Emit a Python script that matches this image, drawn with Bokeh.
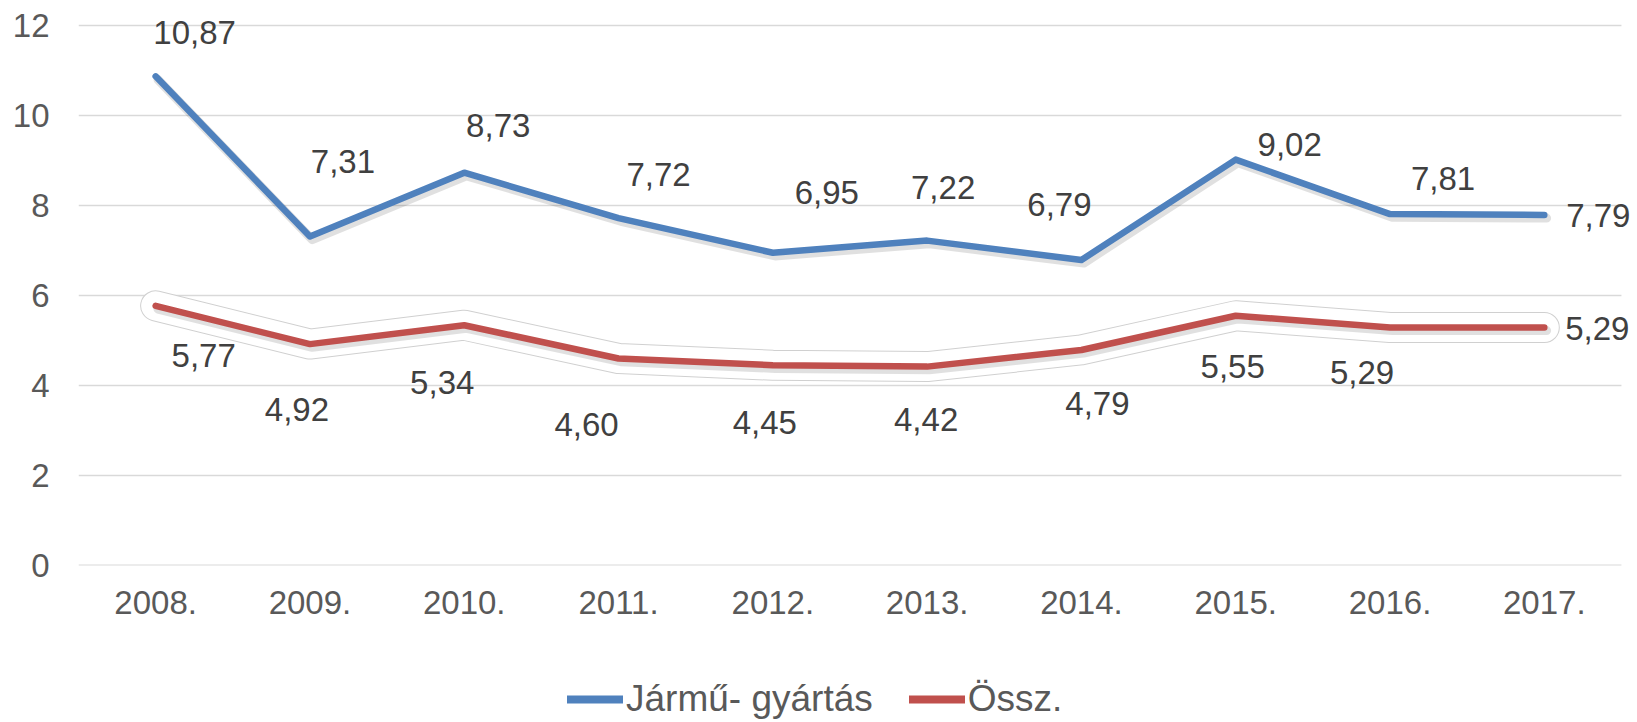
from bokeh.plotting import figure
from bokeh.layouts import column
from bokeh.models import (Range1d, Legend, LegendItem, ColumnDataSource, FixedTicker)
from bokeh.transform import dodge
from bokeh.core.properties import value
from bokeh.embed import file_html
from bokeh.resources import INLINE

years = ["2008.", "2009.", "2010.", "2011.", "2012.", "2013.", "2014.", "2015.", "2016.", "2017."]
jarmu = [10.87, 7.31, 8.73, 7.72, 6.95, 7.22, 6.79, 9.02, 7.81, 7.79]
ossz = [5.77, 4.92, 5.34, 4.60, 4.45, 4.42, 4.79, 5.55, 5.29, 5.29]
y_ticks = [0, 2, 4, 6, 8, 10, 12]
series_names = ["Jármű- gyártás", "Össz."]

# label placement (screen pixels, relative to each point)
jarmu_dx = [39, 33, 34, 40, 54, 16, -22, 54, 53, 54]
jarmu_dy = [-44, -75, -47, -44, -60, -53, -55, -15, -36, 1]
ossz_dx = [48, -13, -22, -32, -8, -1, 16, -3, -28, 53]
ossz_dy = [50, 65, 57, 66, 57, 53, 54, 51, 45, 1]

FONT = "Liberation Sans"
BLUE = "#4F81BD"
RED = "#C0504D"

idx = list(range(len(years)))


def fmt(v):
    return f"{v:.2f}".replace(".", ",")


src_b = ColumnDataSource(dict(x=idx, y=jarmu, lab=[fmt(v) for v in jarmu], dx=jarmu_dx, dy=jarmu_dy))
src_r = ColumnDataSource(dict(x=idx, y=ossz, lab=[fmt(v) for v in ossz], dx=ossz_dx, dy=ossz_dy))

# category slots span [-0.5, n-0.5]; extra room to the right/top for labels
x_lo, x_hi = -0.5, len(years) - 0.5
p = figure(x_range=Range1d(x_lo, x_hi + 0.104), y_range=Range1d(0, 12.556),
           width=1637, height=640, output_backend="svg", toolbar_location=None,
           min_border_left=78, min_border_right=0, min_border_top=0, min_border_bottom=75)
p.outline_line_color = None
p.background_fill_color = "white"
p.border_fill_color = "white"
p.xgrid.grid_line_color = None
p.ygrid.grid_line_color = None

p.yaxis.ticker = FixedTicker(ticks=y_ticks)
p.xaxis.ticker = FixedTicker(ticks=idx)
p.xaxis.major_label_overrides = {i: y for i, y in zip(idx, years)}
for ax in (p.xaxis[0], p.yaxis[0]):
    ax.axis_line_color = None
    ax.major_tick_line_color = None
    ax.minor_tick_line_color = None
    ax.major_tick_out = 0
    ax.major_tick_in = 0
    ax.major_label_text_font = FONT
    ax.major_label_text_color = "#595959"
    ax.major_label_text_font_size = "33px"
p.yaxis.major_label_standoff = 29
p.xaxis.major_label_standoff = 25

# horizontal gridlines across the category area
grid = ColumnDataSource(dict(y=y_ticks, x0=[x_lo] * len(y_ticks), x1=[x_hi] * len(y_ticks),
                             w=[2.2 if t == 0 else 1.5 for t in y_ticks]))
p.segment(x0="x0", x1="x1", y0="y", y1="y", source=grid, line_color="#d9d9d9", line_width="w")

# glow around the red series
p.line(x="x", y="y", source=src_r, line_color="#d0d0d0", line_width=31, line_cap="round", line_join="round")
p.line(x="x", y="y", source=src_r, line_color="white", line_width=29, line_cap="round", line_join="round")

# soft shadows
for src in (src_b, src_r):
    p.line(x=dodge("x", 0.015), y=dodge("y", -0.07), source=src,
           line_color="black", line_alpha=0.12, line_width=9, line_cap="round", line_join="round")

rb = p.line(x="x", y="y", source=src_b, line_color=BLUE, line_width=6.5, line_cap="round", line_join="round")
rr = p.line(x="x", y="y", source=src_r, line_color=RED, line_width=6.5, line_cap="round", line_join="round")

for src in (src_b, src_r):
    p.text(x="x", y="y", text="lab", source=src, x_offset="dx", y_offset="dy",
           text_align="center", text_baseline="middle", text_font=value(FONT),
           text_font_size="33px", text_color="#404040")

# legend strip below the chart (its frame is aligned with the chart's frame)
q = figure(width=1637, height=82, output_backend="svg", toolbar_location=None,
           x_range=Range1d(0, 1), y_range=Range1d(0, 1), x_axis_type=None, y_axis_type=None,
           min_border_left=78, min_border_right=0, min_border_top=0, min_border_bottom=0)
q.outline_line_color = None
q.xgrid.grid_line_color = None
q.ygrid.grid_line_color = None
# legend-only renderers, kept outside the visible range
lb = q.line(x=[-5, -4], y=[-5, -4], line_color=BLUE, line_width=8, line_cap="round")
lr = q.line(x=[-5, -4], y=[-5, -4], line_color=RED, line_width=8, line_cap="round")
legend = Legend(items=[LegendItem(label=series_names[0], renderers=[lb]),
                       LegendItem(label=series_names[1], renderers=[lr])],
                orientation="horizontal", location=(489, 1),
                glyph_width=56, glyph_height=44, label_height=44, label_standoff=3,
                spacing=36, padding=0, margin=0,
                border_line_color=None, background_fill_alpha=0,
                label_text_font=FONT, label_text_font_size="37px", label_text_color="#595959")
q.add_layout(legend, "center")

open("out.html", "w").write(file_html(column(p, q, spacing=0), INLINE))
